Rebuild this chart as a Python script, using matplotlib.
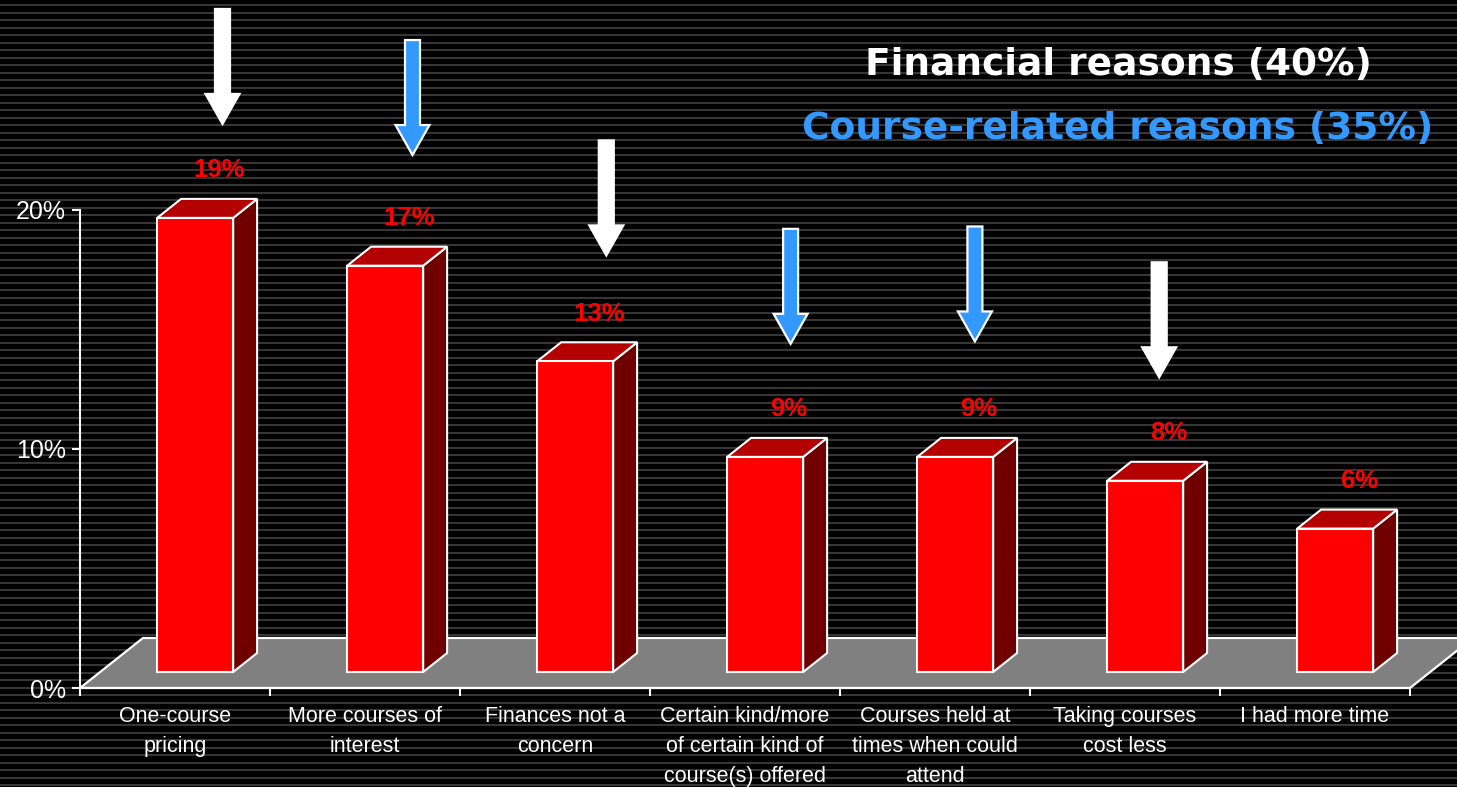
import numpy as np
from matplotlib import pyplot as plt
from matplotlib.patches import Polygon

categories = ['One-course\npricing', 'More courses of\ninterest', 'Finances not a\nconcern',
              'Certain kind/more\nof certain kind of\ncourse(s) offered',
              'Courses held at\ntimes when could\nattend', 'Taking courses\ncost less',
              'I had more time']
values = [19, 17, 13, 9, 9, 8, 6]
labels = ['19%', '17%', '13%', '9%', '9%', '8%', '6%']

# arrows over the bars: x in category units, tip height in %, and which group
arrow_x = [0.75, 1.75, 2.77, 3.74, 4.71, 5.68]
arrow_tip = [23.6, 22.3, 18.1, 14.4, 14.5, 13.0]
arrow_group = ['fin', 'course', 'fin', 'course', 'course', 'fin']

BLUE = '#3399ff'
W, H = 1457, 787

plt.rcParams['font.family'] = ['Liberation Sans', 'DejaVu Sans']

fig = plt.figure(figsize=(W / 100, H / 100), dpi=100, facecolor='black')

# striped background
bg = fig.add_axes([0, 0, 1, 1])
bg.set_xlim(0, 1)
bg.set_ylim(0, H)
bg.axis('off')
bg.set_facecolor('black')
for y in np.arange(2, H, 7.5):
    bg.axhline(y, color='#3c3c3c', lw=1.3)

ax = fig.add_axes([80 / W, 99 / H, 1330 / W, 478 / H])
ax.set_facecolor('none')
ax.set_xlim(0, 7)
ax.set_ylim(0, 20)

px_x = 1330 / 7.0   # pixels per category
px_y = 478 / 20.0   # pixels per percent

# floor
fdx, fdy = 63 / px_x, 50 / px_y
floor = Polygon([(0, 0), (7, 0), (7 + fdx, fdy), (fdx, fdy)], closed=True,
                facecolor='#808080', edgecolor='white', lw=1.6, clip_on=False, zorder=1)
ax.add_patch(floor)

# 3d bars
w = 0.4
d0, d1 = 0.32, 0.70
ddx, ddy = (d1 - d0) * fdx, (d1 - d0) * fdy
y0 = d0 * fdy
for i, v in enumerate(values):
    xl = i + 0.5 - w / 2 + d0 * fdx
    front = [(xl, y0), (xl + w, y0), (xl + w, y0 + v), (xl, y0 + v)]
    top = [(xl, y0 + v), (xl + w, y0 + v), (xl + w + ddx, y0 + v + ddy), (xl + ddx, y0 + v + ddy)]
    side = [(xl + w, y0), (xl + w + ddx, y0 + ddy), (xl + w + ddx, y0 + v + ddy), (xl + w, y0 + v)]
    for pts, c in [(side, '#700000'), (top, '#b40000'), (front, '#ff0000')]:
        ax.add_patch(Polygon(pts, closed=True, facecolor=c, edgecolor='white',
                             lw=1.5, clip_on=False, zorder=3))
    ax.text(xl + w / 2 + ddx, y0 + v + ddy + 1.2, labels[i], color='#ff0000',
            fontsize=18.5, fontweight='bold', ha='center', va='center', zorder=4)

# arrows
shaft = 7.5 / px_x
head = 17 / px_x
head_len = 30 / px_y
length = 115 / px_y
for x, tip, g in zip(arrow_x, arrow_tip, arrow_group):
    c = 'white' if g == 'fin' else BLUE
    pts = [(x - shaft, tip + length), (x + shaft, tip + length), (x + shaft, tip + head_len),
           (x + head, tip + head_len), (x, tip), (x - head, tip + head_len),
           (x - shaft, tip + head_len)]
    ax.add_patch(Polygon(pts, closed=True, facecolor=c, edgecolor='white', lw=1.6,
                         clip_on=False, zorder=5))

# axes styling
for s in ['top', 'right']:
    ax.spines[s].set_visible(False)
for s in ['left', 'bottom']:
    ax.spines[s].set_color('white')
    ax.spines[s].set_linewidth(1.5)
ax.set_yticks([0, 10, 20])
ax.set_yticklabels(['0%', '10%', '20%'])
ax.tick_params(axis='y', colors='white', length=6, width=1.5, pad=4, labelsize=18)
ax.set_xticks(np.arange(0, 8))
ax.set_xticklabels([])
ax.set_xticks(np.arange(7) + 0.5, minor=True)
ax.set_xticklabels(categories, minor=True, linespacing=1.55)
ax.tick_params(axis='x', which='major', colors='white', length=6, width=1.5)
ax.tick_params(axis='x', which='minor', length=0, pad=13, labelsize=15.5, labelcolor='white')

# group titles
fig.text(1118 / W, 1 - 65 / H, 'Financial reasons (40%)', color='white', fontsize=27,
         fontweight='bold', family='DejaVu Sans', ha='center', va='center')
fig.text(1118 / W, 1 - 129 / H, 'Course-related reasons (35%)', color=BLUE, fontsize=27,
         fontweight='bold', family='DejaVu Sans', ha='center', va='center')

fig.savefig('out.png', dpi=100, facecolor='black')
